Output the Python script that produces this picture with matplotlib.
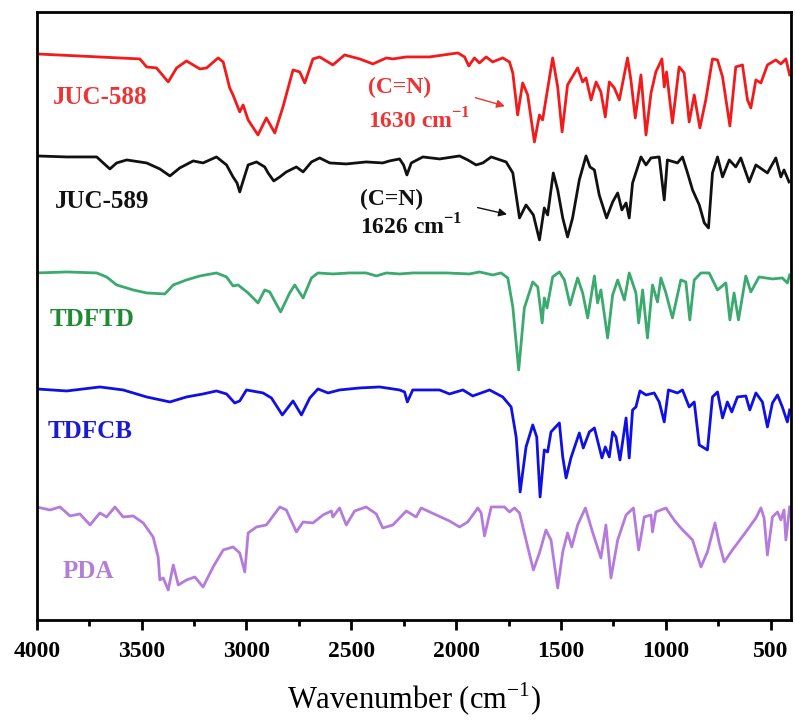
import matplotlib
matplotlib.use("Agg")
import matplotlib.pyplot as plt
from matplotlib.ticker import MultipleLocator

plt.rcParams['font.family'] = ['Liberation Serif', 'DejaVu Serif']
plt.rcParams['mathtext.fontset'] = 'custom'
plt.rcParams['mathtext.rm'] = 'Liberation Serif'
plt.rcParams['mathtext.bf'] = 'Liberation Serif:bold'

# ---- data (wavenumber cm^-1, offset transmittance a.u.) ----
juc588_wn = [4000, 3508, 3476, 3429, 3373, 3333, 3286, 3254, 3222, 3190, 3135, 3111, 3080, 3064, 3032, 3016,
             2992, 2945, 2905, 2865, 2826, 2778, 2746, 2722, 2683, 2651, 2588, 2532, 2460, 2397, 2333, 2302,
             2238, 2127, 1992, 1960, 1940, 1913, 1889, 1857, 1826, 1778, 1746, 1730, 1707, 1683, 1659, 1627,
             1603, 1588, 1540, 1516, 1495, 1469, 1421, 1397, 1381, 1357, 1333, 1310, 1289, 1270, 1246, 1222,
             1183, 1167, 1146, 1119, 1095, 1071, 1048, 1019, 1008, 997, 969, 937, 913, 889, 865, 838, 810,
             778, 754, 730, 695, 667, 635, 611, 595, 571, 547, 516, 476, 452, 428, 410]
juc588_t = [566, 561, 553, 552, 538, 552, 559, 555, 551, 552, 562, 558, 532, 525, 508, 515,
            500, 485, 502, 487, 513, 550, 548, 537, 561, 563, 555, 565, 561, 556, 562, 561,
            563, 563, 567, 563, 554, 562, 557, 563, 558, 562, 558, 547, 505, 537, 525, 478,
            505, 500, 562, 533, 488, 535, 552, 538, 542, 520, 538, 528, 503, 538, 532, 520,
            562, 540, 502, 545, 485, 527, 548, 561, 533, 548, 497, 553, 547, 498, 525, 492, 520,
            561, 560, 543, 494, 553, 555, 520, 512, 540, 537, 555, 560, 556, 561, 545]

juc589_wn = [4000, 3857, 3714, 3683, 3651, 3619, 3571, 3476, 3413, 3365, 3318, 3254, 3207, 3143, 3095, 3064,
             3045, 3032, 3019, 2992, 2952, 2913, 2897, 2870, 2841, 2810, 2762, 2730, 2690, 2651, 2603, 2524,
             2429, 2350, 2318, 2270, 2251, 2235, 2214, 2159, 2079, 1984, 1945, 1905, 1873, 1833, 1762, 1730,
             1698, 1667, 1632, 1603, 1580, 1564, 1537, 1516, 1492, 1469, 1445, 1413, 1381, 1362, 1341, 1318,
             1283, 1254, 1230, 1210, 1190, 1175, 1159, 1119, 1095, 1071, 1032, 1008, 993, 945, 921, 897, 873,
             841, 817, 797, 778, 754, 730, 698, 667, 643, 603, 571, 516, 476, 452, 437, 413]
juc589_t = [464, 463, 463, 457, 451, 457, 460, 457, 451, 444, 452, 459, 457, 463, 455, 443,
            437, 428, 437, 455, 458, 453, 447, 439, 443, 448, 453, 448, 458, 462, 457, 456,
            458, 457, 459, 461, 455, 445, 457, 463, 461, 464, 460, 455, 457, 463, 458, 447,
            402, 415, 405, 380, 412, 405, 447, 430, 402, 383, 402, 440, 464, 453, 450, 425,
            402, 418, 427, 410, 417, 402, 437, 463, 455, 462, 463, 420, 460, 457, 463, 447, 430,
            415, 397, 392, 447, 463, 443, 460, 453, 462, 438, 455, 447, 462, 443, 450, 438]

tdftd_wn = [4000, 3857, 3714, 3667, 3619, 3540, 3476, 3389, 3349, 3286, 3222, 3143, 3095, 3064, 3040, 2992,
            2945, 2913, 2889, 2837, 2794, 2770, 2730, 2690, 2659, 2588, 2508, 2429, 2381, 2333, 2270, 2207,
            2048, 1937, 1889, 1826, 1786, 1754, 1730, 1702, 1675, 1635, 1611, 1590, 1580, 1567, 1540, 1508,
            1484, 1457, 1421, 1397, 1373, 1341, 1326, 1310, 1278, 1254, 1230, 1198, 1175, 1143, 1130, 1111,
            1088, 1064, 1040, 1024, 1000, 969, 929, 905, 886, 865, 833, 794, 754, 714, 695, 675, 654, 619,
            595, 556, 492, 445, 421, 410]
tdftd_t = [347, 348, 347, 343, 335, 330, 327, 326, 335, 340, 344, 347, 343, 334, 335, 327,
           317, 330, 328, 308, 327, 335, 322, 342, 347, 346, 347, 347, 344, 347, 346, 347,
           347, 346, 348, 345, 347, 342, 313, 250, 312, 338, 333, 297, 322, 312, 343, 348,
           340, 315, 342, 327, 302, 344, 317, 330, 282, 325, 340, 320, 347, 327, 297, 330,
           282, 335, 318, 342, 327, 302, 340, 338, 300, 340, 347, 347, 330, 337, 300, 327, 300, 344,
           328, 343, 341, 342, 337, 345]

tdfcb_wn = [4000, 3857, 3699, 3588, 3476, 3365, 3286, 3207, 3143, 3095, 3056, 3032, 3000, 2921, 2881, 2829,
            2778, 2738, 2698, 2659, 2611, 2556, 2460, 2365, 2270, 2246, 2233, 2207, 2079, 2032, 1968, 1921,
            1841, 1778, 1738, 1714, 1695, 1667, 1635, 1616, 1600, 1580, 1564, 1548, 1508, 1492, 1476, 1453,
            1413, 1394, 1365, 1341, 1305, 1289, 1270, 1254, 1238, 1219, 1190, 1175, 1159, 1143, 1124, 1095,
            1056, 1032, 1008, 988, 945, 921, 889, 865, 841, 802, 778, 754, 730, 707, 686, 659, 619, 600,
            571, 540, 516, 492, 468, 445, 421, 410]
tdfcb_t = [231, 229, 233, 230, 223, 218, 223, 226, 229, 226, 217, 219, 230, 227, 222, 205,
           219, 205, 222, 231, 227, 230, 232, 233, 230, 228, 218, 230, 230, 226, 230, 224,
           230, 223, 213, 183, 128, 173, 195, 183, 123, 170, 168, 188, 197, 163, 142, 162,
           187, 172, 188, 192, 162, 173, 163, 188, 183, 160, 202, 162, 210, 213, 229, 225,
           227, 218, 198, 230, 227, 230, 213, 218, 175, 170, 223, 228, 202, 218, 208, 223, 224, 210,
           227, 218, 193, 217, 225, 213, 198, 210]

pda_wn = [4000, 3937, 3889, 3841, 3794, 3746, 3699, 3667, 3627, 3588, 3540, 3492, 3445, 3421, 3413, 3397,
          3373, 3349, 3325, 3286, 3246, 3207, 3159, 3111, 3064, 3032, 3008, 2992, 2952, 2905, 2841, 2810,
          2762, 2730, 2683, 2635, 2595, 2588, 2556, 2524, 2484, 2429, 2381, 2350, 2302, 2238, 2191, 2167,
          2095, 2032, 1984, 1945, 1897, 1881, 1865, 1833, 1770, 1746, 1722, 1698, 1659, 1632, 1603, 1572,
          1548, 1516, 1492, 1469, 1449, 1421, 1384, 1350, 1333, 1310, 1286, 1262, 1230, 1190, 1155, 1130,
          1103, 1071, 1064, 1048, 1000, 961, 929, 873, 833, 802, 766, 746, 722, 683, 619, 571, 547, 532,
          516, 492, 468, 452, 437, 428, 410]
pda_t = [113, 110, 113, 104, 106, 95, 107, 103, 113, 103, 104, 97, 83, 63, 40, 42,
         30, 55, 35, 40, 43, 33, 53, 70, 73, 67, 48, 87, 93, 95, 113, 110,
         88, 98, 97, 105, 109, 103, 112, 95, 109, 113, 106, 92, 95, 109, 103, 112,
         105, 99, 93, 98, 112, 107, 84, 113, 113, 108, 112, 107, 73, 50, 67, 90,
         80, 32, 68, 87, 73, 95, 112, 88, 77, 62, 95, 42, 80, 105, 112, 70,
         103, 105, 88, 108, 112, 100, 92, 80, 53, 68, 97, 77, 58, 70, 88, 102, 112, 102,
         65, 103, 108, 100, 110, 80, 113]

series_names = ['JUC-588', 'JUC-589', 'TDFTD', 'TDFCB', 'PDA']
line_colors = ['#f21a1a', '#111111', '#3aaa6e', '#1010e6', '#b57bdc']
label_colors = ['#ee3333', '#111111', '#1e8a34', '#1a1ad0', '#b27fd6']
label_pos = [(3922, 522), (3913, 418), (3937, 300), (3946, 188), (3875, 48)]

x_ticks = [4000, 3500, 3000, 2500, 2000, 1500, 1000, 500]

fig = plt.figure(figsize=(7.95, 7.23), dpi=100)
ax = fig.add_axes([0.0462, 0.1425, 0.9484, 0.841])

all_wn = [juc588_wn, juc589_wn, tdftd_wn, tdfcb_wn, pda_wn]
all_t = [juc588_t, juc589_t, tdftd_t, tdfcb_t, pda_t]
for wn, t, c in zip(all_wn, all_t, line_colors):
    ax.plot(wn, t, color=c, lw=2.0, solid_joinstyle='round')

for name, (lx, ly), c in zip(series_names, label_pos, label_colors):
    ax.text(lx, ly, name, color=c, fontsize=18, fontweight='bold', ha='left', va='center')

# C=N annotations
ax.text(2422, 532, '(C=N)', color='#ee3333', fontsize=17, fontweight='bold', ha='left', va='center')
ax.text(2422, 499, r'1630 cm$^{\mathbf{-1}}$', color='#ee3333', fontsize=17, fontweight='bold',
        ha='left', va='center')
ax.annotate('', xy=(1755, 513), xytext=(1921, 523),
            arrowprops=dict(arrowstyle='-|>', color='#ee3333', lw=1.0, mutation_scale=12))
ax.text(2461, 420, '(C=N)', color='#111111', fontsize=17, fontweight='bold', ha='left', va='center')
ax.text(2461, 393, r'1626 cm$^{\mathbf{-1}}$', color='#111111', fontsize=17, fontweight='bold',
        ha='left', va='center')
ax.annotate('', xy=(1745, 405), xytext=(1911, 413),
            arrowprops=dict(arrowstyle='-|>', color='#111111', lw=1.0, mutation_scale=12))

ax.set_xlim(4000, 405)
ax.set_ylim(0, 608)
ax.set_xticks(x_ticks)
ax.xaxis.set_minor_locator(MultipleLocator(250))
ax.set_yticks([])
ax.tick_params(axis='x', which='major', direction='out', length=7, width=2, labelsize=17, pad=8)
ax.tick_params(axis='x', which='minor', direction='out', length=4, width=2)
for lab in ax.get_xticklabels():
    lab.set_fontweight('bold')
for sp in ax.spines.values():
    sp.set_linewidth(2)
ax.set_xlabel(r'Wavenumber (cm$^{-1}$)', fontsize=22, labelpad=14)

fig.savefig('out.png', dpi=100)
